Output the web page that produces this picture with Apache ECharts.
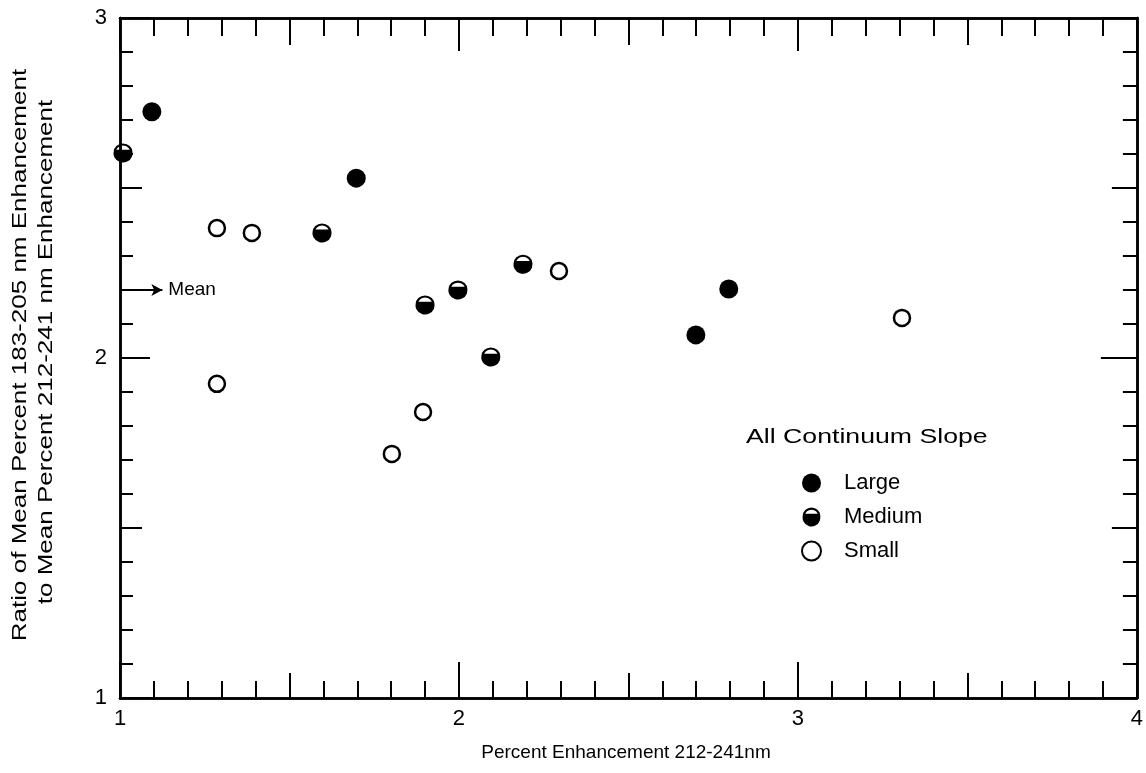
<!DOCTYPE html>
<html>
<head>
<meta charset="utf-8">
<script src="https://cdn.jsdelivr.net/npm/echarts@6/dist/echarts.min.js"></script>
<style>html,body{margin:0;padding:0;background:#fff;}#c{width:1146px;height:773px;}</style>
</head>
<body>
<div id="c"></div>
<script>
// ---- data ----
var xTicks = [1, 2, 3, 4];
var yTicks = [1, 2, 3];
var largeData = [[1.094, 2.724], [1.697, 2.529], [2.699, 2.068], [2.796, 2.203]];
var mediumData = [[1.009, 2.603], [1.596, 2.368], [1.900, 2.156], [1.997, 2.200], [2.094, 2.003], [2.189, 2.276]];
var smallData = [[1.286, 2.382], [1.389, 2.368], [1.286, 1.924], [1.802, 1.718], [1.894, 1.841], [2.295, 2.256], [3.307, 2.118]];
var meanValue = 2.2;
var legendTitle = 'All Continuum Slope';
var xTitle = 'Percent Enhancement 212-241nm';
var yTitle1 = 'Ratio of Mean Percent 183-205 nm Enhancement';
var yTitle2 = 'to Mean Percent 212-241 nm Enhancement';

var FONT = '"Liberation Sans", Arial, Helvetica, sans-serif';
var chart = echarts.init(document.getElementById('c'), null, {renderer: 'canvas'});
var lineStyle = {color: '#000', width: 2.5};
var halfPath = 'path://M10,0A10,10,0,1,1,10,20A10,10,0,1,1,10,0ZM10,2.4A7.6,7.6,0,1,0,10,17.6A7.6,7.6,0,1,0,10,2.4ZM1.0,7L19.0,7A10,10,0,1,1,1.0,7Z';

function xAx(pos, labels, tickLen, minorSplit, minorLen, showTick) {
  return {
    type: 'value', position: pos, min: xTicks[0], max: xTicks[xTicks.length - 1], interval: 1,
    axisLine: {show: true, onZero: false, lineStyle: lineStyle},
    axisTick: {show: showTick, inside: true, length: tickLen, lineStyle: {color: '#000', width: 2}},
    minorTick: {show: true, splitNumber: minorSplit, length: minorLen, lineStyle: {color: '#000', width: 2}},
    axisLabel: {show: labels, color: '#000', fontSize: 22, fontFamily: FONT, margin: 10},
    splitLine: {show: false}, minorSplitLine: {show: false}
  };
}
function yAx(pos, labels, tickLen, minorSplit, minorLen, showTick) {
  return {
    type: 'value', position: pos, min: yTicks[0], max: yTicks[yTicks.length - 1], interval: 1,
    axisLine: {show: true, onZero: false, lineStyle: lineStyle},
    axisTick: {show: showTick, inside: true, length: tickLen, lineStyle: {color: '#000', width: 2}},
    minorTick: {show: true, splitNumber: minorSplit, length: minorLen, lineStyle: {color: '#000', width: 2}},
    axisLabel: {show: labels, color: '#000', fontSize: 22, fontFamily: FONT, margin: 13},
    splitLine: {show: false}, minorSplitLine: {show: false}
  };
}

var option = {
  backgroundColor: '#fff',
  animation: false,
  grid: {left: 120, right: 8, top: 18, bottom: 75},
  xAxis: [
    xAx('bottom', true, 36, 2, 25, true),
    xAx('bottom', false, 0, 10, 17, false),
    xAx('top', false, 33, 2, 27, true),
    xAx('top', false, 0, 10, 18, false)
  ],
  yAxis: [
    yAx('left', true, 30, 2, 22, true),
    yAx('left', false, 0, 10, 13, false),
    yAx('right', false, 36, 2, 25, true),
    yAx('right', false, 0, 10, 14, false)
  ],
  legend: {
    orient: 'vertical', left: 796, top: 467, itemWidth: 19, itemHeight: 19, itemGap: 12,
    data: ['Large', 'Medium', 'Small'],
    textStyle: {color: '#000', fontSize: 22, fontFamily: FONT, padding: [0, 0, 0, 18]}
  },
  graphic: [
    {type: 'text', x: 746, y: 437, scaleX: 1.27, style: {text: legendTitle, font: '21px ' + FONT, fill: '#000', textAlign: 'left', textVerticalAlign: 'middle'}},
    {type: 'text', x: 626, y: 753, style: {text: xTitle, font: '19px ' + FONT, fill: '#000', textAlign: 'center', textVerticalAlign: 'middle'}},
    {type: 'text', x: 20, y: 355, rotation: Math.PI / 2, scaleX: 1.3, style: {text: yTitle1, font: '20px ' + FONT, fill: '#000', textAlign: 'center', textVerticalAlign: 'middle'}},
    {type: 'text', x: 46, y: 352, rotation: Math.PI / 2, scaleX: 1.3, style: {text: yTitle2, font: '20px ' + FONT, fill: '#000', textAlign: 'center', textVerticalAlign: 'middle'}}
  ],
  series: [
    {
      name: 'Large', type: 'scatter', data: largeData, symbol: 'circle', symbolSize: 19,
      itemStyle: {color: '#000', opacity: 1},
      markLine: {
        silent: true, symbol: ['none', 'arrow'], symbolSize: [9, 11],
        lineStyle: {color: '#000', width: 2, type: 'solid'},
        label: {show: true, position: 'end', formatter: 'Mean', color: '#000', fontSize: 19, fontFamily: FONT, distance: 6},
        data: [[{coord: [xTicks[0], meanValue]}, {coord: [1.125, meanValue]}]]
      }
    },
    {
      name: 'Medium', type: 'scatter', data: mediumData, symbol: halfPath, symbolSize: 19,
      itemStyle: {color: '#000', opacity: 1}
    },
    {
      name: 'Small', type: 'scatter', data: smallData, symbol: 'circle', symbolSize: 16,
      itemStyle: {color: '#fff', borderColor: '#000', borderWidth: 2.5, opacity: 1}
    }
  ]
};
chart.setOption(option);
</script>
</body>
</html>
